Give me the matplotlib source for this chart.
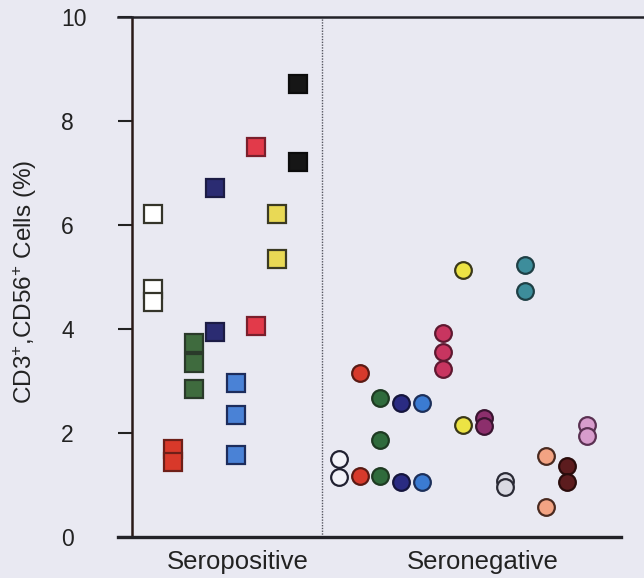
import matplotlib
matplotlib.use("Agg")
import matplotlib.pyplot as plt

plt.rcParams["font.family"] = ["Liberation Sans", "DejaVu Sans"]
plt.rcParams["mathtext.fontset"] = "custom"
plt.rcParams["mathtext.rm"] = "Liberation Sans"
plt.rcParams["mathtext.it"] = "Liberation Sans"

BG = "#e9e9f2"

# seropositive donors (squares), one column each
pos_values = [
    [6.22, 4.76, 4.51],
    [1.69, 1.44],
    [3.74, 3.34, 2.84],
    [6.72, 3.95],
    [2.96, 2.34, 1.57],
    [7.50, 4.05],
    [6.22, 5.34],
    [8.71, 7.22],
]
pos_face = ["#ffffff", "#d8392a", "#3f6b3e", "#2b2c72", "#4a82d6", "#e23a4a", "#e9d955", "#161616"]
pos_edge = ["#35352a", "#6e1f18", "#2a3a2a", "#1c1c45", "#1c2c5c", "#7a1f2c", "#3b3a22", "#0c0c0c"]

# seronegative donors (circles)
neg_values = [
    [1.50, 1.15],
    [3.15, 1.17],
    [2.67, 1.86, 1.17],
    [2.57, 1.06],
    [2.57, 1.06],
    [3.93, 3.55, 3.24],
    [5.13, 2.15],
    [2.28, 2.13],
    [1.08, 0.96],
    [5.24, 4.74],
    [1.55, 0.58],
    [1.36, 1.06],
    [2.15, 1.94],
]
neg_face = ["#f2f2f8", "#d63a2c", "#2f6b3c", "#2a2b82", "#3b7bd2", "#c83560", "#ece344",
            "#8c2f6c", "#d9d9e2", "#3d8d9b", "#f2a383", "#5c1c1e", "#d79ccc"]
neg_edge = ["#202030", "#5a1a14", "#1e3a22", "#15153d", "#1c2f5a", "#5e1830", "#3a3818",
            "#3a1430", "#2a2a35", "#1e3f45", "#4a2a20", "#2a0c0c", "#5a3052"]

group_labels = ["Seropositive", "Seronegative"]
yticks = [0, 2, 4, 6, 8, 10]

fig = plt.figure(figsize=(6.44, 5.78), dpi=100, facecolor=BG)
ax = fig.add_axes([132 / 644, 41 / 578, 1 - 132 / 644, 520 / 578])
ax.set_facecolor(BG)

for i, vals in enumerate(pos_values):
    ax.plot([i + 1] * len(vals), vals, ls="none", marker="s", ms=12.5,
            mfc=pos_face[i], mec=pos_edge[i], mew=1.6, zorder=3)

for i, vals in enumerate(neg_values):
    ax.plot([i + 10] * len(vals), vals, ls="none", marker="o", ms=12,
            mfc=neg_face[i], mec=neg_edge[i], mew=1.6, zorder=3)

ax.axvline(9.2, color="#555560", ls=(0, (1, 1)), lw=1.0, zorder=1)

ax.set_xlim(0, 24.73)
ax.set_ylim(0, 10)
ax.set_yticks(yticks)
ax.tick_params(axis="y", direction="out", length=10, width=1.5, color="#222222",
               labelsize=16.5, pad=41, labelcolor="#222222")
for lab in ax.get_yticklabels():
    lab.set_horizontalalignment("left")

ax.set_xticks([5.1, 16.95])
ax.set_xticklabels(group_labels)
ax.tick_params(axis="x", length=0, labelsize=18.5, pad=9, labelcolor="#222222")

ax.spines["right"].set_visible(False)
ax.spines["left"].set_color("#2a1a18")
ax.spines["left"].set_linewidth(1.8)
ax.spines["top"].set_color("#222228")
ax.spines["top"].set_linewidth(1.8)
ax.spines["bottom"].set_color("#222228")
ax.spines["bottom"].set_linewidth(2.4)
ax.spines["bottom"].set_bounds(-0.7, 23.6)
ax.spines["top"].set_bounds(-0.7, 24.73)

fig.text(25 / 644, 1 - 282 / 578, r"CD3$^{+}$,CD56$^{+}$ Cells (%)", rotation=90,
         ha="center", va="center", fontsize=17.5, color="#222222")

fig.savefig("out.png", dpi=100, facecolor=BG)
